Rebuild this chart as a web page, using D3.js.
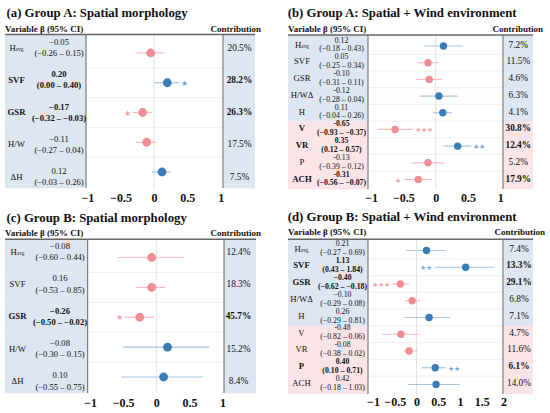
<!DOCTYPE html>
<html><head><meta charset="utf-8">
<script src="https://cdn.jsdelivr.net/npm/d3@7"></script>
<style>
body{margin:0;background:#fff}
svg{display:block}
text{font-family:"Liberation Serif","Times New Roman",serif;fill:#111}
</style>
</head><body>
<svg id="c" width="550" height="413"></svg>
<script>
// ---------- Panel (a) ----------
const titleA = "(a) Group A: Spatial morphology";
const varsA = ["H_avg","SVF","GSR","H/W","ΔH"];
const estTxtA = ["−0.05","0.20","−0.17","−0.11","0.12"];
const ciTxtA = ["(−0.26 – 0.15)","(0.00 – 0.40)","(−0.32 – −0.03)","(−0.27 – 0.04)","(−0.03 – 0.26)"];
const contribA = ["20.5%","28.2%","26.3%","17.5%","7.5%"];
const starsA = [0,1,1,0,0];
const starSideA = ["","R","L","",""];
const groupA = ["S","S","S","S","S"];
const betaA = [-0.05,0.20,-0.17,-0.11,0.12];
const loA = [-0.26,0.00,-0.32,-0.27,-0.03];
const hiA = [0.15,0.38,-0.03,0.04,0.26];

// ---------- Panel (b) ----------
const titleB = "(b) Group A: Spatial + Wind environment";
const varsB = ["H_avg","SVF","GSR","H/WΔ","H","V","VR","P","ACH"];
const estTxtB = ["0.12","0.05","-0.10","-0.12","0.11","-0.65","0.35","-0.13","-0.31"];
const ciTxtB = ["(−0.18 – 0.43)","(−0.25 – 0.34)","(−0.31 – 0.11)","(−0.28 – 0.04)","(−0.04 – 0.26)","(−0.93 – −0.37)","(0.12 – 0.57)","(−0.39 – 0.12)","(−0.56 – −0.07)"];
const contribB = ["7.2%","11.5%","4.6%","6.3%","4.1%","30.8%","12.4%","5.2%","17.9%"];
const starsB = [0,0,0,0,0,3,2,0,1];
const starSideB = ["","","","","","R","R","","L"];
const groupB = ["S","S","S","S","S","W","W","W","W"];
const betaB = [0.12,-0.12,-0.10,0.05,0.11,-0.63,0.34,-0.12,-0.27];
const loB = [-0.18,-0.28,-0.30,-0.25,-0.04,-0.90,0.12,-0.37,-0.50];
const hiB = [0.42,0.04,0.10,0.34,0.25,-0.35,0.55,0.13,-0.06];

// ---------- Panel (c) ----------
const titleC = "(c) Group B: Spatial morphology";
const varsC = ["H_avg","SVF","GSR","H/W","ΔH"];
const estTxtC = ["−0.08","0.16","−0.26","−0.08","0.10"];
const ciTxtC = ["(−0.60 – 0.44)","(−0.53 – 0.85)","(−0.50 – −0.02)","(−0.30 – 0.15)","(−0.55 – 0.75)"];
const contribC = ["12.4%","18.3%","45.7%","15.2%","8.4%"];
const starsC = [0,0,1,0,0];
const starSideC = ["","","L","",""];
const groupC = ["S","S","S","S","S"];
const betaC = [-0.07,-0.07,-0.25,0.17,0.11];
const loC = [-0.58,-0.30,-0.48,-0.50,-0.53];
const hiC = [0.42,0.14,-0.03,0.80,0.71];

// ---------- Panel (d) ----------
const titleD = "(d) Group B: Spatial + Wind environment";
const varsD = ["H_avg","SVF","GSR","H/WΔ","H","V","VR","P","ACH"];
const estTxtD = ["0.21","1.13","−0.40","−0.10","0.26","-0.48","-0.08","0.40","0.42"];
const ciTxtD = ["(−0.27 – 0.69)","(0.43 – 1.84)","(−0.62 – −0.18)","(−0.29 – 0.08)","(−0.29 – 0.81)","(−0.82 – 0.06)","(−0.38 – 0.02)","(0.10 – 0.71)","(−0.18 – 1.03)"];
const contribD = ["7.4%","13.3%","29.1%","6.8%","7.1%","4.7%","11.6%","6.1%","14.0%"];
const starsD = [0,2,3,0,0,0,0,2,0];
const starSideD = ["","L","L","","","","","R",""];
const groupD = ["S","S","S","S","S","W","W","W","W"];
const betaD = [0.23,1.13,-0.37,-0.10,0.29,-0.36,-0.17,0.43,0.45];
const loD = [-0.23,0.41,-0.57,-0.26,-0.28,-0.79,-0.30,0.12,-0.19];
const hiD = [0.67,1.79,-0.17,0.08,0.77,0.06,0.03,0.67,1.00];

// ---------- Axis ticks ----------
const ticksAC = [-1,-0.5,0,0.5,1];
const ticksB = [-1,-0.5,0,0.5,1];
const ticksD = [-1,-0.5,0,0.5,1,1.5,2];
const headerLeft = "Variable β (95% CI)";
const headerRight = "Contribution";

const COL = {
  bgS:"#dde6f1", bgW:"#fbe4e7",
  dotPos:"#3a7db5", dotNeg:"#f08c96",
  ciPos:"#a6c6e1", ciNeg:"#f6bcc2",
  starPos:"#78a9d3", starNeg:"#f4a1a9",
  frame:"#666666", grid:"#ececec", zero:"#e2e2e2"
};

const svg = d3.select("#c");

function nameText(sel, name){
  const parts = name.split("_");
  sel.append("tspan").text(parts[0]);
  if(parts[1]) sel.append("tspan").attr("font-size","0.6em").attr("dy","0.25em").text(parts[1]);
}

function panel(L, D){
  const g = svg.append("g");
  const n = D.vars.length;
  const x = d3.scaleLinear().domain(D.domain)
    .range([L.zero + D.domain[0]*L.unit, L.zero + D.domain[1]*L.unit]);
  const yDot = d3.scalePoint().domain(d3.range(n)).range(L.dotY);
  const yTxt = d3.scalePoint().domain(d3.range(n)).range(L.txtY);
  const step = yDot.step();
  const rowTop = i => i===0 ? L.top : yDot(i)-step/2;
  const rowBot = i => i===n-1 ? L.bot : yDot(i)+step/2;

  d3.range(n).forEach(i=>{
    const c = D.group[i]==="W" ? COL.bgW : COL.bgS;
    g.append("rect").attr("x",L.left).attr("y",rowTop(i)).attr("width",L.plotL-L.left)
      .attr("height",rowBot(i)-rowTop(i)+0.3).attr("fill",c);
    g.append("rect").attr("x",L.plotR).attr("y",rowTop(i)).attr("width",L.right-L.plotR)
      .attr("height",rowBot(i)-rowTop(i)+0.3).attr("fill",c);
  });
  d3.range(n-1).forEach(i=>{
    g.append("line").attr("x1",L.plotL).attr("x2",L.plotR)
      .attr("y1",yDot(i)+step/2).attr("y2",yDot(i)+step/2)
      .attr("stroke",COL.grid).attr("stroke-width",0.8);
  });
  g.append("line").attr("x1",x(0)).attr("x2",x(0)).attr("y1",L.top).attr("y2",L.bot)
    .attr("stroke",COL.zero).attr("stroke-width",1);
  g.append("line").attr("x1",L.left).attr("x2",L.right).attr("y1",L.top).attr("y2",L.top)
    .attr("stroke",COL.frame).attr("stroke-width",1.5);
  [L.plotL,L.plotR].forEach(xx=>{
    g.append("line").attr("x1",xx).attr("x2",xx).attr("y1",L.top).attr("y2",L.bot)
      .attr("stroke",COL.frame).attr("stroke-width",1);
  });

  g.append("text").attr("x",L.tx).attr("y",L.ty).attr("dominant-baseline","central")
    .attr("font-weight","bold").attr("font-size",L.fsTitle).text(D.title);
  g.append("text").attr("x",L.left).attr("y",L.hy).attr("dominant-baseline","central")
    .attr("font-weight","bold").attr("font-size",9).text(headerLeft);
  g.append("text").attr("x",L.contribEnd).attr("y",L.hy).attr("dominant-baseline","central")
    .attr("text-anchor","end").attr("font-weight","bold").attr("font-size",9).text(headerRight);

  d3.range(n).forEach(i=>{
    const bold = D.stars[i]>0 ? "bold" : "normal";
    const ty = yTxt(i);
    const t = g.append("text").attr("x",L.nameX).attr("y",ty).attr("dominant-baseline","central")
      .attr("text-anchor","middle").attr("font-weight",bold).attr("font-size",L.fsName);
    nameText(t, D.vars[i]);
    g.append("text").attr("x",L.valX).attr("y",ty+L.estDy).attr("dominant-baseline","central")
      .attr("text-anchor","middle").attr("font-weight",bold).attr("font-size",L.fsVal).text(D.est[i]);
    g.append("text").attr("x",L.valX).attr("y",ty+L.ciDy).attr("dominant-baseline","central")
      .attr("text-anchor","middle").attr("font-weight",bold).attr("font-size",L.fsVal).text(D.ci[i]);
    g.append("text").attr("x",L.contribX).attr("y",ty).attr("dominant-baseline","central")
      .attr("text-anchor","middle").attr("font-weight",bold).attr("font-size",9.3).text(D.contrib[i]);

    const pos = D.beta[i] >= 0;
    const yy = yDot(i);
    g.append("line").attr("x1",x(D.lo[i])).attr("x2",x(D.hi[i])).attr("y1",yy).attr("y2",yy)
      .attr("stroke",pos?COL.ciPos:COL.ciNeg).attr("stroke-width",1.2);
    g.append("circle").attr("cx",x(D.beta[i])).attr("cy",yy).attr("r",L.r)
      .attr("fill",pos?COL.dotPos:COL.dotNeg);
    if(D.stars[i]>0){
      const right = D.side[i]==="R";
      g.append("text").attr("x", right ? x(D.hi[i])+2 : x(D.lo[i])-2).attr("y",yy+0.5)
        .attr("dominant-baseline","central").attr("text-anchor", right?"start":"end")
        .attr("font-family","DejaVu Sans").attr("font-size",L.fsStar)
        .style("fill",pos?COL.starPos:COL.starNeg)
        .text("★".repeat(D.stars[i]));
    }
  });

  const ax = g.append("g").attr("transform",`translate(0,${L.axisY-7.5})`)
    .call(d3.axisBottom(x).tickValues(D.ticks).tickSize(0).tickPadding(3).tickFormat(d3.format("~g")));
  ax.select(".domain").remove();
  ax.selectAll("text").attr("font-family","Liberation Serif").attr("font-weight","bold")
    .attr("font-size",12).attr("fill","#111");
}

const layA = {tx:6.5,ty:13,hy:29,left:5,plotL:86,plotR:223,right:255,contribEnd:261,top:34.5,bot:188,
  zero:154,unit:66.7,dotY:[53,172],txtY:[47.5,176.5],nameX:16.5,valX:59,contribX:239.5,axisY:197.5,
  fsTitle:12.8,fsName:8.7,fsVal:8.6,estDy:-5.5,ciDy:5.5,r:4.4,fsStar:7.5};
const layB = {tx:287.7,ty:13,hy:29,left:288,plotL:368,plotR:503,right:533,contribEnd:543,top:35,bot:189,
  zero:435.7,unit:64.5,dotY:[46,179.5],txtY:[44.5,178.5],nameX:302,valX:341.5,contribX:518.3,axisY:198,
  fsTitle:12.8,fsName:8.7,fsVal:7.8,estDy:-4.5,ciDy:4.3,r:3.7,fsStar:6.5};
const layC = {tx:6.5,ty:217.7,hy:233.3,left:5,plotL:87.7,plotR:224,right:256,contribEnd:261,top:239.3,bot:393,
  zero:156.3,unit:66.2,dotY:[257.5,377],txtY:[251.5,381],nameX:17.5,valX:60,contribX:238.5,axisY:403,
  fsTitle:12.8,fsName:8.7,fsVal:8.6,estDy:-5.7,ciDy:5.7,r:4.4,fsStar:7.5};
const layD = {tx:287.7,ty:216.7,hy:232.3,left:288,plotL:368,plotR:503,right:533,contribEnd:545,top:239.3,bot:394,
  zero:416.5,unit:43.5,dotY:[250.5,384.5],txtY:[248.5,383],nameX:301.5,valX:342.5,contribX:519,axisY:402,
  fsTitle:12.8,fsName:8.7,fsVal:7.8,estDy:-4.6,ciDy:4.4,r:3.7,fsStar:6.5};

panel(layA,{title:titleA,vars:varsA,est:estTxtA,ci:ciTxtA,contrib:contribA,stars:starsA,side:starSideA,
  group:groupA,beta:betaA,lo:loA,hi:hiA,domain:[-1,1],ticks:ticksAC});
panel(layB,{title:titleB,vars:varsB,est:estTxtB,ci:ciTxtB,contrib:contribB,stars:starsB,side:starSideB,
  group:groupB,beta:betaB,lo:loB,hi:hiB,domain:[-1,1],ticks:ticksB});
panel(layC,{title:titleC,vars:varsC,est:estTxtC,ci:ciTxtC,contrib:contribC,stars:starsC,side:starSideC,
  group:groupC,beta:betaC,lo:loC,hi:hiC,domain:[-1,1],ticks:ticksAC});
panel(layD,{title:titleD,vars:varsD,est:estTxtD,ci:ciTxtD,contrib:contribD,stars:starsD,side:starSideD,
  group:groupD,beta:betaD,lo:loD,hi:hiD,domain:[-1,2],ticks:ticksD});
</script>
</body></html>
